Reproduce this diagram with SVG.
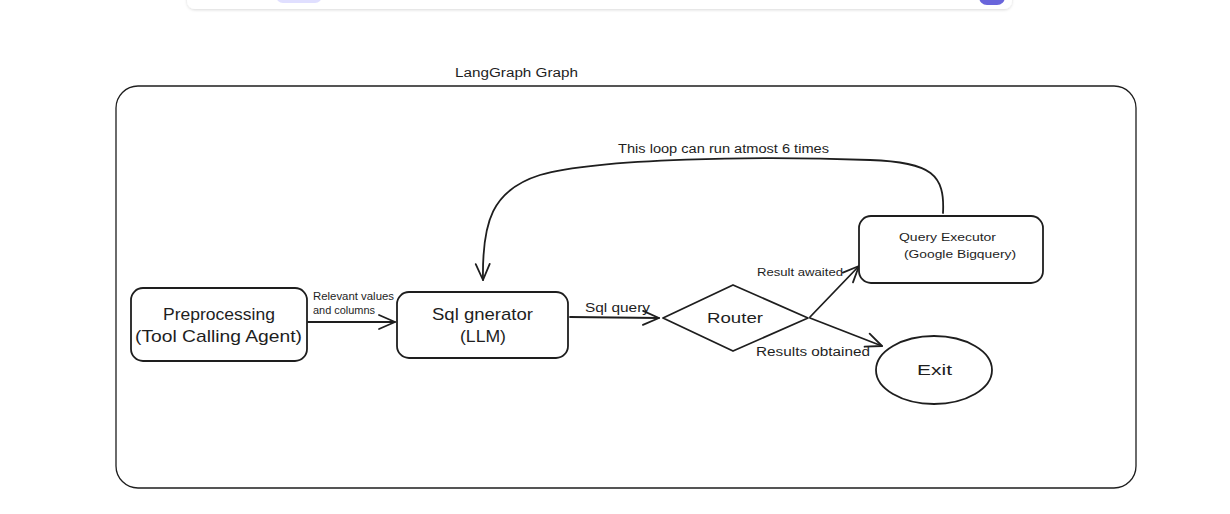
<svg xmlns="http://www.w3.org/2000/svg" width="1230" height="514" viewBox="0 0 1230 514">
<defs>
<filter id="sh" x="-5%" y="-100%" width="110%" height="300%">
<feDropShadow dx="0" dy="1" stdDeviation="1.5" flood-color="#000" flood-opacity="0.15"/>
</filter>
<marker id="ah" viewBox="0 0 20 20" refX="18" refY="10" markerWidth="20" markerHeight="20" markerUnits="userSpaceOnUse" orient="auto">
<path d="M2 3 L18 10 L2 17" fill="none" stroke="#1e1e1e" stroke-width="1.8" stroke-linecap="round" stroke-linejoin="round"/>
</marker>
</defs>
<style>
.n{fill:#fff;stroke:#1e1e1e;stroke-width:1.8}
.c{fill:none;stroke:#1e1e1e;stroke-width:1.8;stroke-linecap:round}
.t{font-family:"Liberation Sans",Arial,sans-serif;fill:#1e1e1e;text-anchor:middle}
.l{font-family:"Liberation Sans",Arial,sans-serif;fill:#1e1e1e}
</style>
<rect width="1230" height="514" fill="#fff"/>
<g id="toolbar">
<rect x="187" y="-12" width="825" height="21" rx="8" fill="#fff" filter="url(#sh)"/>
<rect x="276" y="-12" width="46" height="15" rx="7" fill="#e0dfff"/>
<rect x="979" y="-12" width="26" height="17" rx="8" fill="#6965db"/>
</g>
<g id="frame">
<rect x="116" y="86" width="1020" height="402" rx="22" fill="none" stroke="#1e1e1e" stroke-width="1.3"/>
<text class="l" x="455" y="77" font-size="12" textLength="123" lengthAdjust="spacingAndGlyphs">LangGraph Graph</text>
</g>
<g id="connectors">
<path class="c" d="M943 213 C945 175 932 162 870 160 C760 156 600 158 540 175 C492 190 482 222 483 280" marker-end="url(#ah)"/>
<text class="l" x="618" y="153" font-size="12" textLength="211" lengthAdjust="spacingAndGlyphs">This loop can run atmost 6 times</text>
<path class="c" d="M308 322 L395 322" marker-end="url(#ah)"/>
<text class="l" x="313" y="300" font-size="10" textLength="81" lengthAdjust="spacingAndGlyphs">Relevant values</text>
<text class="l" x="313" y="314" font-size="10" textLength="62" lengthAdjust="spacingAndGlyphs">and columns</text>
<path class="c" d="M570 317 L659 318" marker-end="url(#ah)"/>
<text class="l" x="585" y="312" font-size="13" textLength="65" lengthAdjust="spacingAndGlyphs">Sql query</text>
<path class="c" d="M810 317 L859 266" marker-end="url(#ah)"/>
<text class="l" x="757" y="276" font-size="11" textLength="86" lengthAdjust="spacingAndGlyphs">Result awaited</text>
<path class="c" d="M810 318 L882 346" marker-end="url(#ah)"/>
<text class="l" x="756" y="356" font-size="12" textLength="114" lengthAdjust="spacingAndGlyphs">Results obtained</text>
</g>
<g id="preprocessing">
<rect class="n" x="131" y="288" width="176" height="73" rx="12"/>
<text class="l" x="163" y="320" font-size="17" textLength="112" lengthAdjust="spacingAndGlyphs">Preprocessing</text>
<text class="l" x="135" y="342" font-size="17" textLength="167" lengthAdjust="spacingAndGlyphs">(Tool Calling Agent)</text>
</g>
<g id="sqlgen">
<rect class="n" x="397" y="292" width="171" height="66" rx="12"/>
<text class="l" x="432" y="320" font-size="17" textLength="101" lengthAdjust="spacingAndGlyphs">Sql gnerator</text>
<text class="l" x="460" y="342" font-size="17" textLength="46" lengthAdjust="spacingAndGlyphs">(LLM)</text>
</g>
<g id="router">
<path class="n" d="M663 318 L733 285 L808 318 L733 351 Z" stroke-linejoin="round"/>
<text class="l" x="707" y="323" font-size="15" textLength="56" lengthAdjust="spacingAndGlyphs">Router</text>
</g>
<g id="executor">
<rect class="n" x="859" y="216" width="184" height="67" rx="12"/>
<text class="l" x="899" y="241" font-size="11" textLength="97" lengthAdjust="spacingAndGlyphs">Query Executor</text>
<text class="l" x="904" y="258" font-size="11" textLength="112" lengthAdjust="spacingAndGlyphs">(Google Bigquery)</text>
</g>
<g id="exit">
<ellipse class="n" cx="934" cy="370" rx="58" ry="34"/>
<text class="l" x="917" y="375" font-size="15" textLength="35" lengthAdjust="spacingAndGlyphs">Exit</text>
</g>
</svg>
